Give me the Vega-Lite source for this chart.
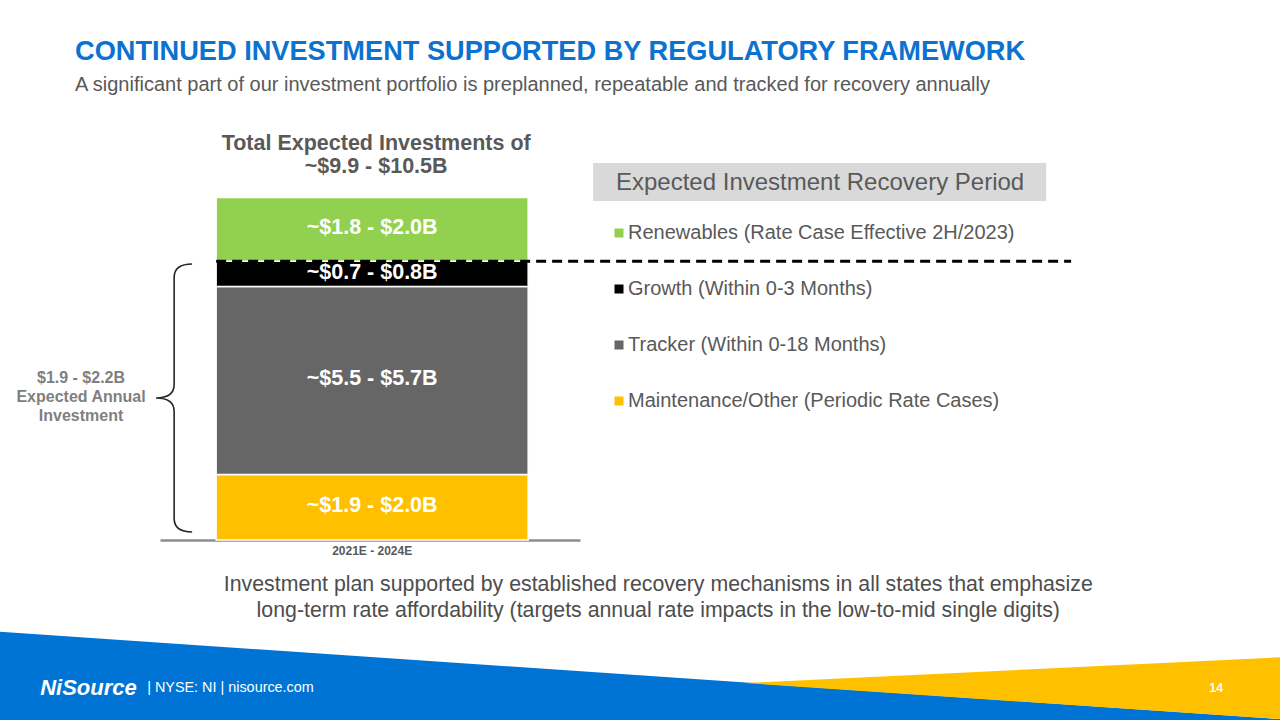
{
  "$schema": "https://vega.github.io/schema/vega-lite/v6.json",
  "width": 420,
  "height": 403,
  "autosize": {"type": "none"},
  "padding": {"left": 160, "top": 137, "right": 700, "bottom": 180},
  "background": "white",
  "config": {
    "font": "Liberation Sans",
    "view": {"stroke": null},
    "axisY": {"disable": true},
    "axisX": {
      "domain": true,
      "domainColor": "#8C8C8C",
      "domainWidth": 2.5,
      "ticks": false,
      "grid": false,
      "labelAngle": 0,
      "labelFont": "Liberation Sans",
      "labelFontSize": 12,
      "labelFontWeight": "bold",
      "labelColor": "#595959",
      "labelPadding": 5
    }
  },
  "title": {
    "text": "CONTINUED INVESTMENT SUPPORTED BY REGULATORY FRAMEWORK",
    "subtitle": "A significant part of our investment portfolio is preplanned, repeatable and tracked for recovery annually",
    "anchor": "start",
    "frame": "group",
    "dx": -85,
    "offset": 37,
    "font": "Liberation Sans",
    "fontSize": 27.2,
    "fontWeight": "bold",
    "color": "#0B72CF",
    "subtitleFont": "Liberation Sans",
    "subtitleFontSize": 20,
    "subtitleColor": "#595959",
    "subtitlePadding": 9.5
  },
  "datasets": {
    "segments": [
      {"category": "2021E - 2024E", "segment": "Maintenance/Other (Periodic Rate Cases)", "order": 1, "value": 1.95, "label": "~$1.9 - $2.0B"},
      {"category": "2021E - 2024E", "segment": "Tracker (Within 0-18 Months)", "order": 2, "value": 5.6, "label": "~$5.5 - $5.7B"},
      {"category": "2021E - 2024E", "segment": "Growth (Within 0-3 Months)", "order": 3, "value": 0.75, "label": "~$0.7 - $0.8B"},
      {"category": "2021E - 2024E", "segment": "Renewables (Rate Case Effective 2H/2023)", "order": 4, "value": 1.9, "label": "~$1.8 - $2.0B"}
    ]
  },
  "layer": [
    {
      "data": {"values": [{"part": "blue band"}]},
      "mark": {"type": "point", "shape": "M-1.01,-0.07 L1.01,0.068 L1.01,0.08 L-1.01,0.08 Z", "filled": true, "fill": "#0074D4", "strokeWidth": 0, "opacity": 1, "size": 1638400},
      "encoding": {
        "x": {"datum": "2021E - 2024E", "bandPosition": 1.359, "axis": {"title": null}},
        "y": {"datum": -4.05, "axis": null}
      }
    },
    {
      "data": {"values": [{"part": "yellow wedge"}]},
      "mark": {"type": "point", "shape": "M0.164,0.0109 L1.01,-0.0297 L1.01,0.068 Z", "filled": true, "fill": "#FFC000", "strokeWidth": 0, "opacity": 1, "size": 1638400},
      "encoding": {
        "x": {"datum": "2021E - 2024E", "bandPosition": 1.359, "axis": {"title": null}},
        "y": {"datum": -4.05, "axis": null}
      }
    },
    {
      "data": {"values": [{"part": "legend header"}]},
      "mark": {"type": "rect", "color": "#D9D9D9"},
      "encoding": {
        "x": {"datum": "2021E - 2024E", "bandPosition": 1.208, "axis": {"title": null}},
        "x2": {"datum": "2021E - 2024E", "bandPosition": 2.66},
        "y": {"datum": 11.226, "axis": null},
        "y2": {"datum": 10.094}
      }
    },
    {
      "data": {"name": "segments"},
      "mark": {"type": "bar", "stroke": "white", "strokeWidth": 1.5},
      "encoding": {
        "x": {
          "field": "category",
          "type": "nominal",
          "scale": {"type": "band", "paddingInner": 0, "paddingOuter": 0.173, "align": 0.52},
          "axis": {"title": null}
        },
        "y": {
          "field": "value",
          "type": "quantitative",
          "aggregate": "sum",
          "stack": "zero",
          "scale": {"domain": [0, 12], "nice": false, "zero": true},
          "axis": null
        },
        "order": {"field": "order", "type": "quantitative", "sort": "ascending"},
        "color": {
          "field": "segment",
          "type": "nominal",
          "scale": {
            "domain": ["Renewables (Rate Case Effective 2H/2023)", "Growth (Within 0-3 Months)", "Tracker (Within 0-18 Months)", "Maintenance/Other (Periodic Rate Cases)"],
            "range": ["#92D050", "#000000", "#666666", "#FFC000"]
          },
          "legend": {
            "title": "Expected Investment Recovery Period",
            "orient": "none",
            "legendX": 456,
            "legendY": 34,
            "padding": 0,
            "titleFont": "Liberation Sans",
            "titleFontSize": 24,
            "titleFontWeight": "normal",
            "titleColor": "#595959",
            "titlePadding": 28,
            "titleLimit": 600,
            "labelFont": "Liberation Sans",
            "labelFontSize": 20,
            "labelColor": "#595959",
            "labelLimit": 600,
            "labelOffset": -1,
            "symbolOffset": -7,
            "symbolType": "square",
            "symbolSize": 81,
            "symbolStrokeWidth": 0,
            "rowPadding": 36
          }
        }
      }
    },
    {
      "data": {"name": "segments"},
      "transform": [
        {"stack": "value", "groupby": ["category"], "sort": [{"field": "order", "order": "ascending"}], "as": ["v0", "v1"]},
        {"calculate": "(datum.v0 + datum.v1) / 2", "as": "mid"}
      ],
      "mark": {"type": "text", "color": "white", "font": "Liberation Sans", "fontSize": 21.5, "fontWeight": "bold", "baseline": "middle", "dy": -1},
      "encoding": {
        "x": {"field": "category", "type": "nominal", "axis": {"title": null}},
        "y": {"field": "mid", "type": "quantitative", "axis": null},
        "text": {"field": "label", "type": "nominal"}
      }
    },
    {
      "data": {"name": "segments"},
      "mark": {"type": "text", "text": ["Total Expected Investments of", "~$9.9 - $10.5B"], "color": "#595959", "font": "Liberation Sans", "fontSize": 21.5, "fontWeight": "bold", "baseline": "bottom", "lineHeight": 23, "dy": -42, "dx": 4},
      "encoding": {
        "x": {"field": "category", "type": "nominal", "axis": {"title": null}},
        "y": {"field": "value", "type": "quantitative", "aggregate": "sum", "axis": null}
      }
    },
    {
      "data": {"name": "segments"},
      "transform": [{"filter": "datum.order < 4"}],
      "mark": {"type": "rule", "color": "#000000", "strokeWidth": 3, "strokeDash": [10, 6]},
      "encoding": {
        "x": {"datum": "2021E - 2024E", "bandPosition": 0, "axis": {"title": null}},
        "x2": {"datum": "2021E - 2024E", "bandPosition": 2.74},
        "y": {"field": "value", "type": "quantitative", "aggregate": "sum", "axis": null}
      }
    },
    {
      "data": {"values": [{"part": "brace"}]},
      "mark": {"type": "point", "shape": "M0.134,-1 Q0,-1 0,-0.9 L0,-0.1 Q0,0 -0.135,0 Q0,0 0,0.1 L0,0.9 Q0,1 0.134,1", "filled": false, "stroke": "#262626", "strokeWidth": 1.6, "opacity": 1, "size": 71824},
      "encoding": {
        "x": {"datum": "2021E - 2024E", "bandPosition": -0.1346, "axis": {"title": null}},
        "y": {"datum": 4.228, "axis": null}
      }
    },
    {
      "data": {"values": [{"note": "$1.9 - $2.2B\nExpected Annual\nInvestment"}]},
      "mark": {"type": "text", "lineBreak": "\n", "color": "#7F7F7F", "font": "Liberation Sans", "fontSize": 16, "fontWeight": "bold", "align": "center", "baseline": "middle", "lineHeight": 19},
      "encoding": {
        "x": {"datum": "2021E - 2024E", "bandPosition": -0.433, "axis": {"title": null}},
        "y": {"datum": 4.824, "axis": null},
        "text": {"field": "note", "type": "nominal"}
      }
    },
    {
      "data": {"values": [{"note": "Investment plan supported by established recovery mechanisms in all states that emphasize\nlong-term rate affordability (targets annual rate impacts in the low-to-mid single digits)"}]},
      "mark": {"type": "text", "lineBreak": "\n", "color": "#4D4D4D", "font": "Liberation Sans", "fontSize": 21.3, "align": "center", "baseline": "middle", "lineHeight": 26},
      "encoding": {
        "x": {"datum": "2021E - 2024E", "bandPosition": 1.417, "axis": {"title": null}},
        "y": {"datum": -1.34, "axis": null},
        "text": {"field": "note", "type": "nominal"}
      }
    },
    {
      "data": {"values": [{"note": "NiSource"}]},
      "mark": {"type": "text", "color": "white", "font": "Liberation Sans", "fontSize": 22, "fontWeight": "bold", "fontStyle": "italic", "align": "left", "baseline": "middle"},
      "encoding": {
        "x": {"datum": "2021E - 2024E", "bandPosition": -0.564, "axis": {"title": null}},
        "y": {"datum": -4.407, "axis": null},
        "text": {"field": "note", "type": "nominal"}
      }
    },
    {
      "data": {"values": [{"note": "|  NYSE: NI  |  nisource.com"}]},
      "mark": {"type": "text", "color": "white", "font": "Liberation Sans", "fontSize": 14.4, "align": "left", "baseline": "middle"},
      "encoding": {
        "x": {"datum": "2021E - 2024E", "bandPosition": -0.221, "axis": {"title": null}},
        "y": {"datum": -4.407, "axis": null},
        "text": {"field": "note", "type": "nominal"}
      }
    },
    {
      "data": {"values": [{"note": "14"}]},
      "mark": {"type": "text", "color": "white", "font": "Liberation Sans", "fontSize": 12.5, "fontWeight": "bold", "align": "center", "baseline": "middle"},
      "encoding": {
        "x": {"datum": "2021E - 2024E", "bandPosition": 3.205, "axis": {"title": null}},
        "y": {"datum": -4.407, "axis": null},
        "text": {"field": "note", "type": "nominal"}
      }
    }
  ]
}
